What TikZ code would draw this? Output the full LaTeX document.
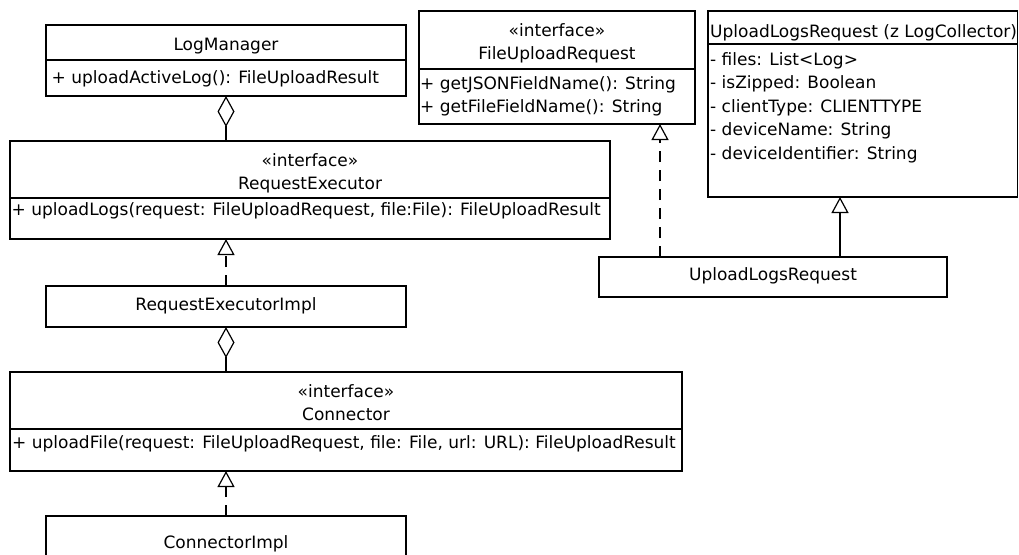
\documentclass[tikz,border=0pt]{standalone}
\usepackage{fontspec}
\setmainfont{DejaVu Sans}
\usetikzlibrary{arrows.meta}
\begin{document}
\begin{tikzpicture}[x=1pt,y=-1pt,
  box/.style={draw=black,line width=1.2pt,anchor=north west,inner sep=0pt,outer sep=0pt},
  txt/.style={inner sep=0pt,anchor=base,font=\fontsize{17}{20}\selectfont},
  ltxt/.style={txt,anchor=base west},
  agg/.style={line width=1.2pt,-{Diamond[open,length=31pt,width=17pt]}},
  real/.style={line width=1.2pt,dash pattern=on 11pt off 8pt,-{Triangle[open,length=16pt,width=17pt]}},
  gen/.style={line width=1.2pt,-{Triangle[open,length=16pt,width=17pt]}},
  sep/.style={line width=1.2pt}]
\useasboundingbox (0,0) rectangle (1019,554);
% boxes
\node[box,minimum width=360pt,minimum height=71pt] (lm) at (46,25) {};
\node[box,minimum width=600pt,minimum height=98pt] (re) at (10,141) {};
\node[box,minimum width=360pt,minimum height=41pt] (rei) at (46,286) {};
\node[box,minimum width=672pt,minimum height=99pt] (con) at (10,372) {};
\node[box,minimum width=360pt,minimum height=44pt] (coni) at (46,516) {};
\node[box,minimum width=276pt,minimum height=113pt] (fur) at (419,11) {};
\node[box,minimum width=309.5pt,minimum height=186pt] (ulc) at (708,11) {};
\node[box,minimum width=348pt,minimum height=40pt] (ulr) at (599,257) {};
% dividers
\draw[sep] (lm.west |- 0,60) -- (lm.east |- 0,60);
\draw[sep] (re.west |- 0,198) -- (re.east |- 0,198);
\draw[sep] (con.west |- 0,429) -- (con.east |- 0,429);
\draw[sep] (fur.west |- 0,69) -- (fur.east |- 0,69);
\draw[sep] (ulc.west |- 0,44) -- (ulc.east |- 0,44);
% texts
\node[txt] (lmT) at (226,50) {LogManager};
\node[ltxt] (lmM) at (51.5,83) {+ uploadActiveLog(): FileUploadResult};
\node[txt] (reS) at (310,166) {«interface»};
\node[txt] (reT) at (310,189) {RequestExecutor};
\node[ltxt] (reM) at (11.5,215) {+ uploadLogs(request: FileUploadRequest, file:File): FileUploadResult};
\node[txt] (reiT) at (226,310) {RequestExecutorImpl};
\node[txt] (conS) at (346,397) {«interface»};
\node[txt] (conT) at (346,420) {Connector};
\node[ltxt] (conM) at (12,448) {+ uploadFile(request: FileUploadRequest, file: File, url: URL): FileUploadResult};
\node[txt] (coniT) at (226,548) {ConnectorImpl};
\node[txt] (furS) at (557,36) {«interface»};
\node[txt] (furT) at (557,59) {FileUploadRequest};
\node[ltxt] (furM1) at (420,89) {+ getJSONFieldName(): String};
\node[ltxt] (furM2) at (420,112) {+ getFileFieldName(): String};
\node[ltxt] (ulcT) at (710,37) {UploadLogsRequest (z LogCollector)};
\node[ltxt] (ulcA1) at (710,65) {- files: List<Log>};
\node[ltxt] (ulcA2) at (710,88.5) {- isZipped: Boolean};
\node[ltxt] (ulcA3) at (710,112) {- clientType: CLIENTTYPE};
\node[ltxt] (ulcA4) at (710,135.5) {- deviceName: String};
\node[ltxt] (ulcA5) at (710,159) {- deviceIdentifier: String};
\node[txt] (ulrT) at (773,280) {UploadLogsRequest};
% connectors
\draw[agg] (re.north -| lm.south) -- (lm.south);
\draw[agg] (con.north -| rei.south) -- (rei.south);
\draw[real] (rei.north) -- (re.south -| rei.north);
\draw[real] (coni.north) -- (con.south -| coni.north);
\draw[real] (ulr.north -| 660,0) -- (fur.south -| 660,0);
\draw[gen] (ulr.north -| 840,0) -- (ulc.south -| 840,0);
\end{tikzpicture}
\end{document}
